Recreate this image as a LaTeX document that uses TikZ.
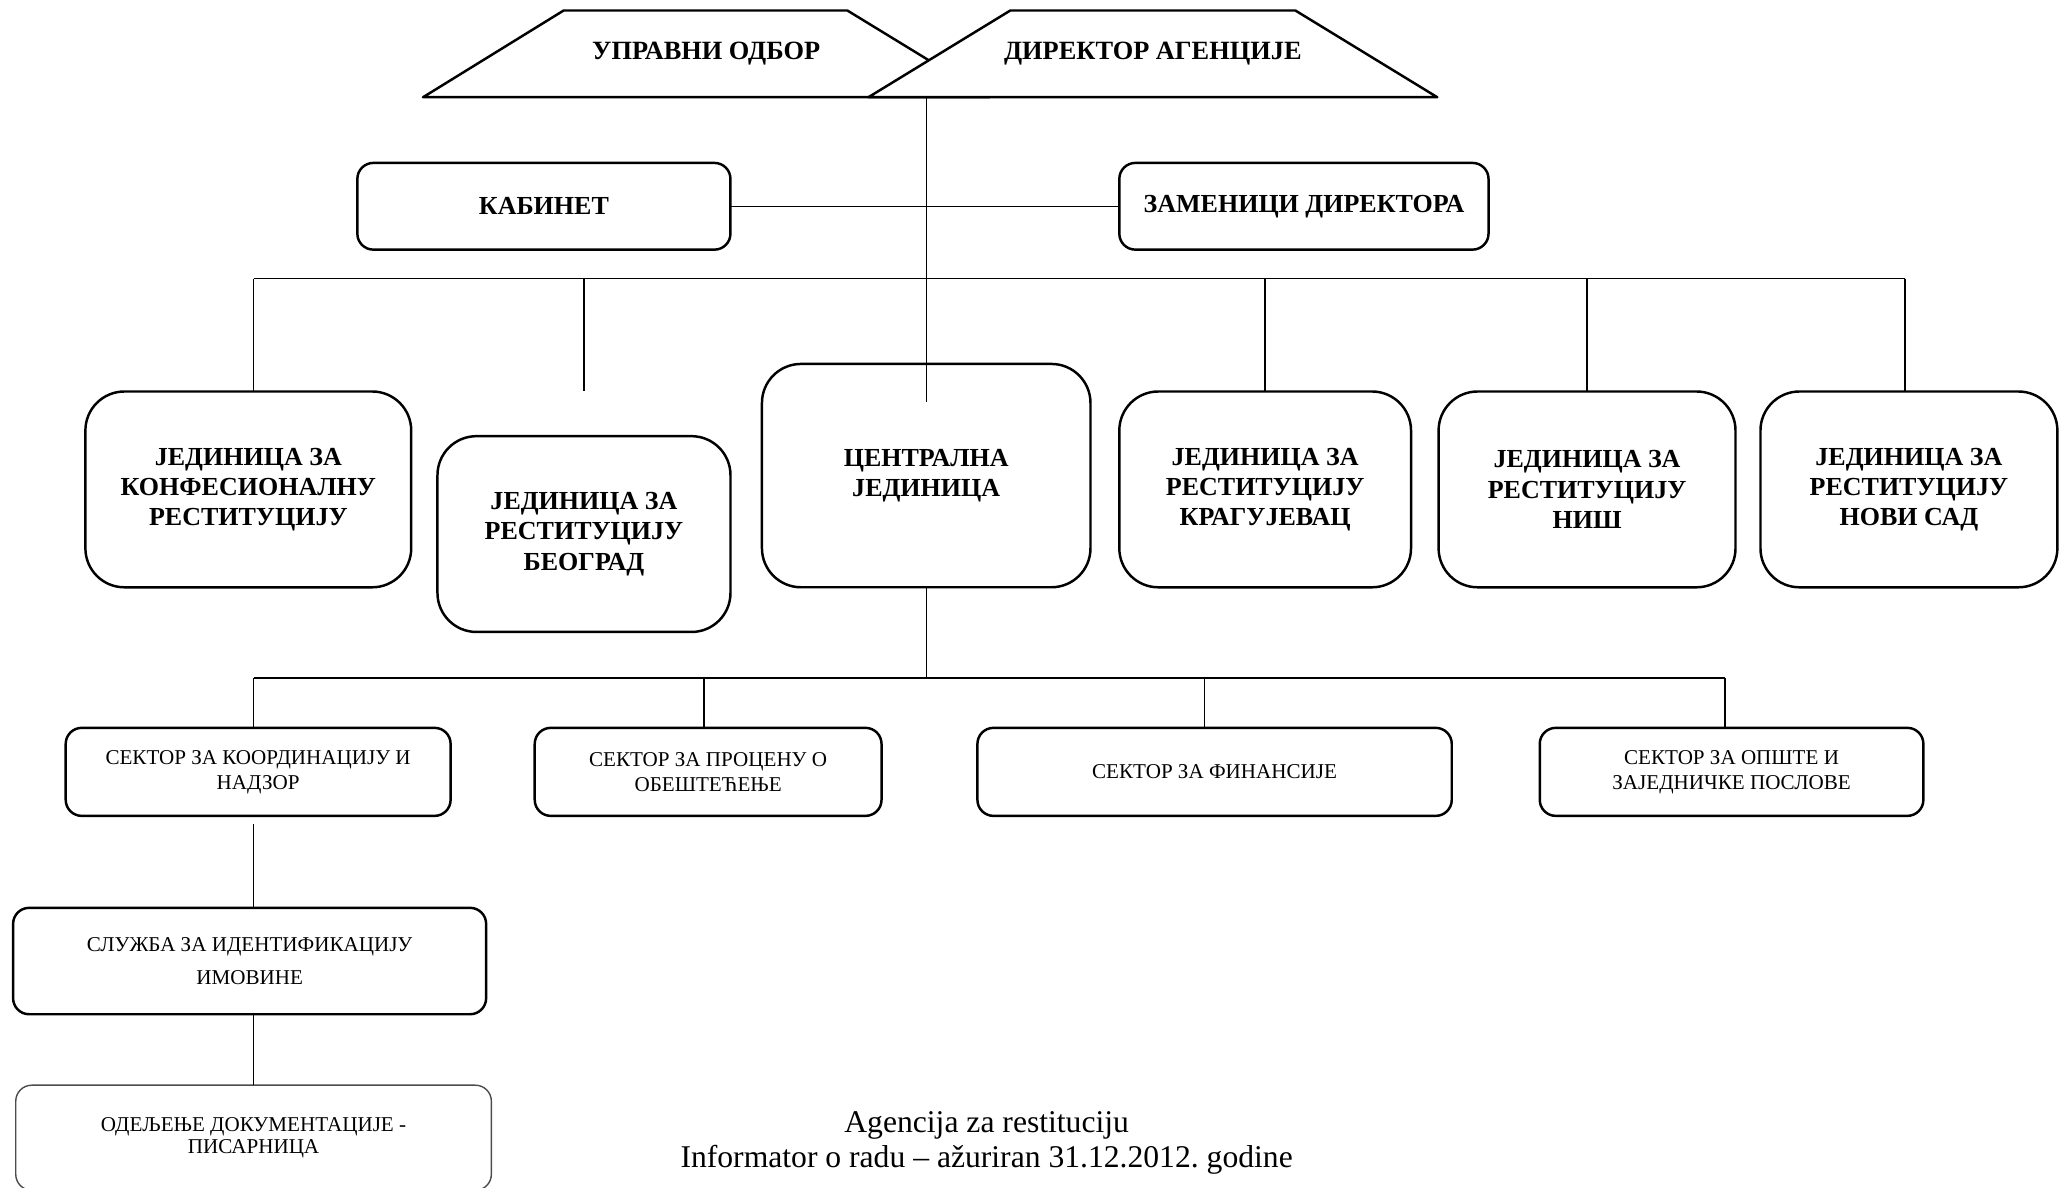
\documentclass[tikz,border=0pt]{standalone}
\usepackage{fontspec}
\setmainfont{Liberation Serif}
\tikzstyle{tp}=[draw=black,fill=white,line width=0.7pt,line join=round]
\tikzstyle{tn}=[inner sep=0pt,font=\bfseries\fontsize{7.5}{8.6}\selectfont]
\tikzstyle{bn}=[rectangle,rounded corners=0.16cm,draw=black,line width=0.7pt,
  inner sep=0pt,outer sep=0pt,minimum height=0.867cm,align=center,
  font=\bfseries\fontsize{7.4}{8.6}\selectfont]
\tikzstyle{jn}=[rectangle,rounded corners=0.39cm,draw=black,line width=0.7pt,
  inner sep=0pt,outer sep=0pt,minimum height=1.958cm,align=center,
  font=\bfseries\fontsize{7.4}{8.6}\selectfont]
\tikzstyle{sn}=[rectangle,rounded corners=0.16cm,draw=black,line width=0.7pt,
  inner sep=0pt,outer sep=0pt,minimum height=0.880cm,align=center,
  font=\fontsize{6}{7.1}\selectfont]

\begin{document}
\begin{tikzpicture}[x=0.013138cm,y=-0.013138cm,line width=0.4pt]
    \useasboundingbox (0,0) rectangle (1568,904);
    % top
    \draw [style=tp] (322,74) -- (429,8) -- (645,8) -- (753,74) -- cycle;
    \node [style=tn] (odbor) at (537.5,41) {УПРАВНИ ОДБОР};
    \draw [style=tp] (661,74) -- (769,8) -- (986,8) -- (1094,74) -- cycle;
    \node [style=tn] (dir) at (877.5,41) {ДИРЕКТОР АГЕНЦИЈЕ};
    \coordinate (dirb) at (705,74);
    \node [style=bn,minimum width=3.731cm] (kab) at (414,157) {КАБИНЕТ};
    \node [style=bn,minimum width=3.692cm] (zam) at (992.5,157) {ЗАМЕНИЦИ ДИРЕКТОРА};
    % units
    \node [style=jn,minimum width=3.258cm] (konf) at (189,372.5)
      {ЈЕДИНИЦА ЗА\\КОНФЕСИОНАЛНУ\\РЕСТИТУЦИЈУ};
    \node [style=jn,minimum width=2.930cm] (beo) at (444.5,406.5)
      {ЈЕДИНИЦА ЗА\\РЕСТИТУЦИЈУ\\БЕОГРАД};
    \node [style=jn,minimum width=3.285cm,minimum height=2.233cm] (cj) at (705,362)
      {ЦЕНТРАЛНА\\ЈЕДИНИЦА};
    \node [style=jn,minimum width=2.917cm] (krag) at (963,372.5)
      {ЈЕДИНИЦА ЗА\\РЕСТИТУЦИЈУ\\КРАГУЈЕВАЦ};
    \node [style=jn,minimum width=2.969cm] (nis) at (1208,372.5)
      {ЈЕДИНИЦА ЗА\\РЕСТИТУЦИЈУ\\НИШ};
    \node [style=jn,minimum width=2.969cm] (ns) at (1453,372.5)
      {ЈЕДИНИЦА ЗА\\РЕСТИТУЦИЈУ\\НОВИ САД};
    % sectors
    \node [style=sn,minimum width=3.849cm] (s1) at (196.5,587.5)
      {СЕКТОР ЗА КООРДИНАЦИЈУ И\\НАДЗОР};
    \node [style=sn,minimum width=3.468cm] (s2) at (539,587.5)
      {СЕКТОР ЗА ПРОЦЕНУ О\\ОБЕШТЕЋЕЊЕ};
    \node [style=sn,minimum width=4.743cm] (s3) at (924.5,587.5)
      {СЕКТОР ЗА ФИНАНСИЈЕ};
    \node [style=sn,minimum width=3.836cm] (s4) at (1318,587.5)
      {СЕКТОР ЗА ОПШТЕ И\\ЗАЈЕДНИЧКЕ ПОСЛОВЕ};
    \node [style=sn,minimum width=4.730cm,minimum height=1.064cm,
      font=\fontsize{6}{9.3}\selectfont] (sl) at (190,731.5)
      {СЛУЖБА ЗА ИДЕНТИФИКАЦИЈУ\\ИМОВИНЕ};
    \node [style=sn,minimum width=4.756cm,minimum height=1.051cm,line width=0.4pt,
      draw=black!70,font=\fontsize{6}{6.2}\selectfont] (od) at (193,866)
      {ОДЕЉЕЊЕ ДОКУМЕНТАЦИЈЕ -\\ПИСАРНИЦА};
    \node [align=center,font=\fontsize{9}{10.1}\selectfont] (cap) at (751,870)
      {Agencija za restituciju\\Informator o radu – ažuriran 31.12.2012.\ godine};
    % buses
    \coordinate (busA) at (193,212);
    \coordinate (busAr) at (1450,212);
    \coordinate (busB) at (193,516);
    \coordinate (busBr) at (1313,516);
    % connectors
    \draw (dirb) -- ([yshift=-0.381cm]cj.north);
    \draw (kab) -- (zam);
    \draw (busA) -- (busAr);
    \draw (busA) -- (busA |- konf.north);
    \draw (beo.north |- busA) -- (beo.north |- konf.north);
    \draw (krag.north |- busA) -- (krag.north);
    \draw (nis.north |- busA) -- (nis.north);
    \draw (busAr) -- (busAr |- ns.north);
    \draw (cj.south) -- (cj.south |- busB);
    \draw (busB) -- (busBr);
    \draw (busB) -- (busB |- s1.north);
    \draw ([xshift=-0.04cm]s2.north |- busB) -- ([xshift=-0.04cm]s2.north);
    \draw ([xshift=-0.1cm]s3.north |- busB) -- ([xshift=-0.1cm]s3.north);
    \draw (busBr) -- (busBr |- s4.north);
    \draw [shorten <=0.08cm] (busB |- s1.south) -- (busB |- sl.north);
    \draw (busB |- sl.south) -- (busB |- od.north);
  \end{tikzpicture}
\end{document}
